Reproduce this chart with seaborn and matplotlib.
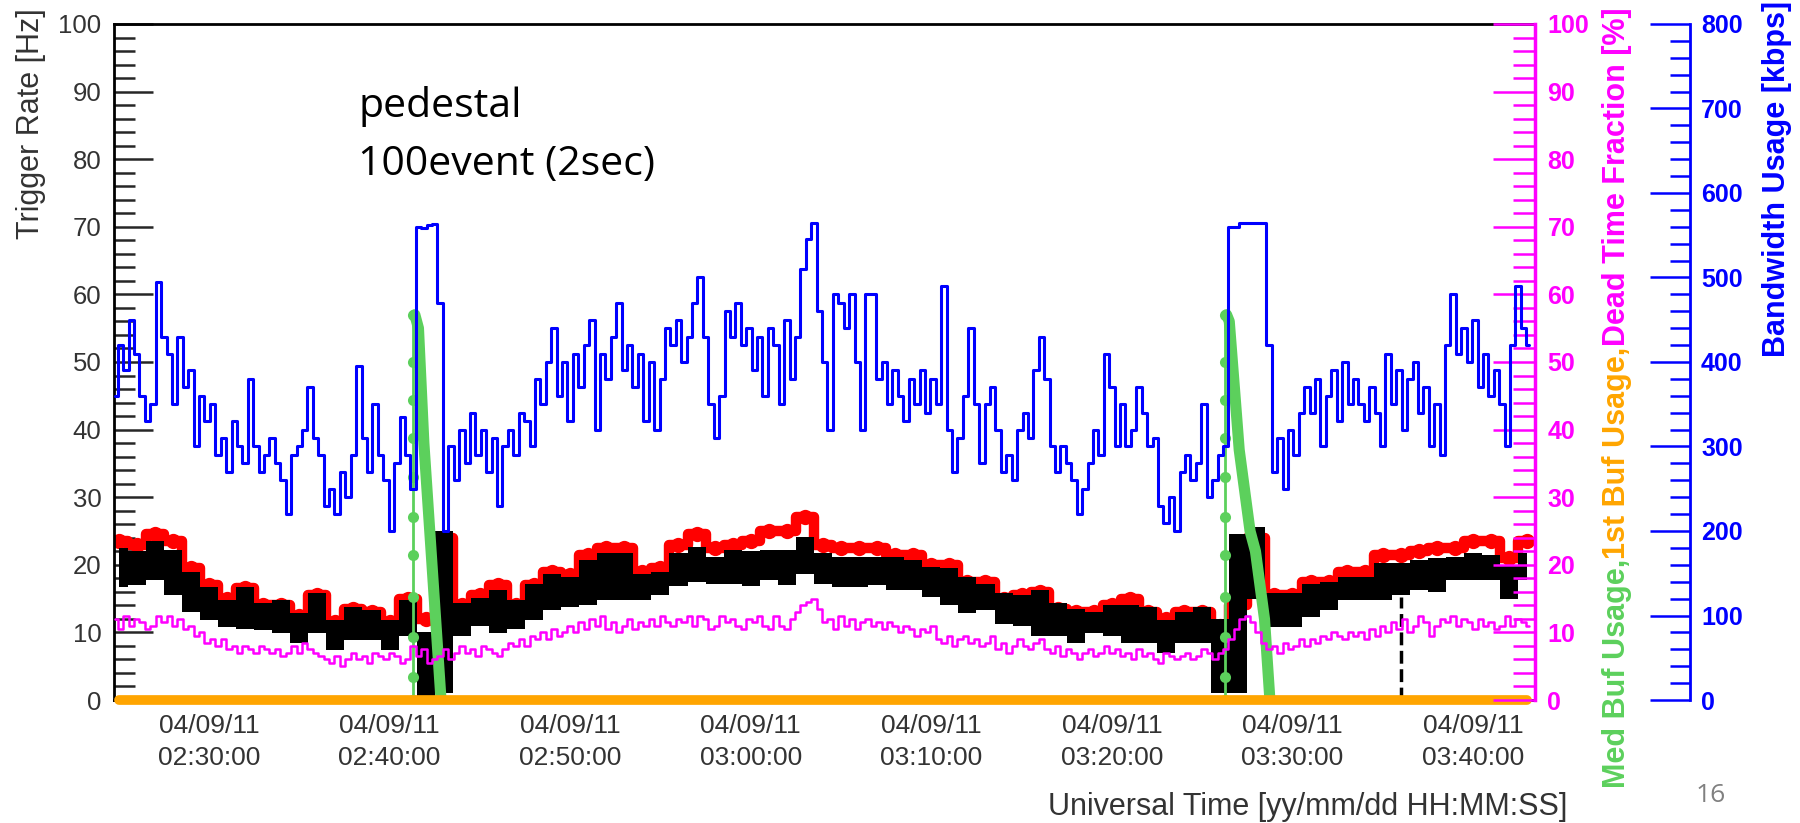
import numpy as np
import matplotlib
matplotlib.use("Agg")
import matplotlib.pyplot as plt
from matplotlib.ticker import MultipleLocator
import seaborn as sns

# time axis in minutes after 02:00:00 (04/09/11)
x_lo, x_hi = 24.74, 103.43
tick_minutes = [30, 40, 50, 60, 70, 80, 90, 100]
tick_labels = ["04/09/11\n02:30:00", "04/09/11\n02:40:00", "04/09/11\n02:50:00",
               "04/09/11\n03:00:00", "04/09/11\n03:10:00", "04/09/11\n03:20:00",
               "04/09/11\n03:30:00", "04/09/11\n03:40:00"]

# bandwidth [kbps] and dead time [%], sampled every 0.3 min from 24.8
bw_start, bw_step = 24.8, 0.3
bandwidth_kbps = [
    360, 420, 390, 450, 410, 360, 330, 350, 495, 430,
    410, 350, 430, 370, 390, 300, 360, 330, 350, 290,
    310, 270, 330, 300, 280, 380, 300, 270, 290, 310,
    280, 260, 220, 290, 300, 320, 370, 310, 290, 230,
    250, 220, 270, 240, 290, 395, 310, 270, 350, 290,
    260, 200, 280, 335, 290, 250, 560, 558, 562, 563,
    470, 200, 300, 260, 320, 280, 340, 290, 320, 270,
    310, 230, 300, 320, 290, 340, 330, 300, 380, 350,
    400, 440, 360, 400, 330, 410, 370, 420, 450, 320,
    410, 380, 430, 470, 390, 420, 370, 410, 330, 400,
    320, 380, 440, 420, 450, 400, 430, 470, 500, 430,
    350, 310, 360, 460, 430, 470, 420, 440, 390, 430,
    360, 440, 420, 350, 450, 380, 430, 510, 545, 565,
    460, 400, 320, 480, 470, 440, 480, 400, 320, 480,
    480, 380, 400, 350, 390, 360, 330, 380, 350, 390,
    340, 380, 350, 490, 320, 270, 310, 360, 440, 350,
    280, 350, 370, 320, 270, 290, 260, 320, 340, 310,
    390, 430, 380, 300, 270, 300, 280, 260, 220, 250,
    280, 320, 290, 410, 370, 300, 350, 300, 320, 370,
    340, 300, 310, 230, 210, 240, 200, 270, 290, 260,
    280, 350, 240, 260, 290, 300, 560, 560, 564, 564,
    564, 564, 564, 420, 270, 310, 250, 320, 290, 340,
    370, 340, 380, 300, 360, 390, 330, 400, 350, 380,
    350, 330, 370, 340, 300, 410, 350, 390, 320, 380,
    400, 340, 370, 300, 350, 290, 420, 480, 410, 440,
    400, 450, 370, 410, 360, 390, 350, 300, 420, 490,
    440, 420]
dead_time_pct = [
    12.0, 10.5, 12.5, 11.0, 12.0, 11.5, 10.5, 11.0, 12.5, 11.5,
    12.5, 11.0, 12.0, 10.5, 11.0, 9.5, 10.0, 8.5, 9.0, 8.0,
    9.0, 7.5, 8.0, 7.0, 8.0, 7.5, 7.0, 8.0, 7.5, 7.0,
    7.5, 6.5, 7.0, 8.0, 7.0, 8.5, 7.5, 7.0, 6.5, 6.0,
    5.5, 6.5, 5.0, 6.0, 7.0, 6.0, 6.5, 5.5, 7.0, 6.5,
    6.0, 7.0, 6.5, 5.5, 6.0, 8.0, 6.5, 7.5, 5.5, 6.0,
    6.5, 7.5, 6.0, 7.0, 8.0, 7.0, 7.5, 6.5, 8.0, 7.5,
    7.0, 6.5, 7.5, 8.5, 8.0, 9.0, 8.0, 9.5, 9.0, 10.0,
    9.0, 10.5, 9.5, 10.0, 11.0, 10.0, 11.5, 10.5, 12.0, 11.0,
    12.5, 10.5, 11.5, 10.0, 11.0, 12.0, 10.5, 11.5, 11.0, 12.0,
    11.0, 12.5, 11.5, 11.0, 12.0, 11.5, 12.5, 11.0, 12.5, 12.0,
    10.5, 11.0, 12.5, 11.5, 12.0, 11.0, 10.5, 12.0, 11.5, 12.5,
    11.0, 10.5, 12.5, 11.0, 10.5, 12.0, 13.0, 14.0, 14.5, 15.0,
    13.5, 11.5, 12.0, 10.5, 12.5, 11.0, 12.0, 10.5, 11.5, 12.0,
    11.0, 11.5, 10.5, 11.5, 11.0, 10.0, 11.0, 10.5, 9.5, 10.5,
    10.0, 11.0, 9.0, 8.5, 9.5, 8.0, 9.0, 9.5, 8.5, 9.0,
    8.0, 8.5, 9.5, 7.5, 8.5, 7.0, 8.0, 9.0, 8.0, 7.5,
    8.5, 9.0, 7.5, 7.0, 8.0, 6.5, 7.5, 7.0, 6.0, 7.0,
    7.5, 6.5, 7.0, 8.0, 7.0, 7.5, 6.5, 7.0, 6.0, 7.5,
    6.5, 7.0, 6.0, 5.5, 7.0, 6.5, 6.0, 6.5, 7.0, 6.0,
    6.5, 7.5, 7.0, 6.0, 7.0, 7.5, 9.0, 10.5, 12.0, 12.5,
    11.5, 10.0, 8.5, 7.5, 8.0, 7.0, 8.5, 7.5, 8.0, 9.0,
    8.0, 9.0, 8.5, 9.5, 9.0, 10.0, 9.5, 9.0, 10.0, 9.5,
    10.0, 9.0, 10.5, 9.5, 11.0, 10.0, 11.5, 10.5, 12.0, 10.0,
    11.0, 12.5, 11.5, 9.5, 11.0, 12.0, 11.5, 12.5, 11.0, 12.0,
    11.5, 10.5, 12.0, 11.0, 11.5, 10.5, 11.0, 12.5, 11.0, 12.0,
    11.5, 11.0]

# trigger rates [Hz], one value per minute from 25 to 103
rate_time = list(range(25, 104))
trig_rate = [
    23.5, 23.0, 24.5, 23.5, 19.5, 17.0, 15.0, 16.5, 14.0, 14.0,
    12.5, 15.5, 11.5, 13.5, 13.0, 11.5, 15.0, 12.0, 24.0, 14.0,
    15.5, 17.0, 14.0, 17.0, 19.0, 18.5, 21.5, 22.5, 22.5, 19.0,
    19.5, 23.0, 24.5, 22.5, 23.0, 23.5, 25.0, 25.0, 27.0, 23.0,
    22.5, 22.5, 22.5, 21.5, 21.5, 20.0, 20.0, 17.5, 17.5, 15.0,
    15.5, 16.0, 13.5, 13.0, 13.0, 14.0, 15.0, 13.0, 12.0, 13.0,
    13.0, 11.0, 14.0, 24.0, 15.5, 15.5, 17.5, 17.5, 19.0, 19.0,
    21.5, 21.5, 22.0, 22.5, 22.5, 23.5, 23.5, 21.0, 23.5]
accept_hi = [
    22.5, 22.0, 23.5, 22.2, 19.0, 16.7, 14.8, 16.7, 14.3, 14.8,
    12.8, 15.8, 11.8, 13.8, 13.3, 11.8, 14.8, 10.0, 25.0, 14.3,
    15.1, 16.3, 14.8, 17.2, 18.7, 18.2, 20.7, 21.7, 21.7, 18.7,
    19.0, 21.7, 22.6, 21.2, 22.2, 22.0, 22.2, 22.2, 24.1, 21.7,
    21.2, 21.2, 21.2, 21.2, 20.7, 19.7, 19.5, 18.2, 17.2, 15.8,
    15.5, 16.3, 14.3, 13.5, 13.0, 14.0, 14.0, 13.8, 11.8, 13.0,
    13.8, 12.0, 24.6, 25.6, 15.8, 15.8, 17.2, 17.5, 18.2, 18.2,
    20.2, 20.2, 20.7, 21.0, 21.2, 21.7, 21.5, 20.0, 21.7]
accept_lo = [
    16.7, 17.0, 17.7, 15.5, 13.0, 11.8, 10.8, 10.5, 10.3, 9.9,
    8.4, 9.9, 7.4, 8.9, 8.9, 7.4, 9.4, 0.5, 1.0, 9.4,
    11.0, 9.9, 10.5, 11.8, 13.3, 13.8, 14.0, 14.8, 14.8, 14.8,
    15.5, 16.8, 17.5, 17.2, 17.2, 16.8, 17.7, 17.0, 18.7, 17.2,
    16.7, 16.7, 17.0, 16.2, 16.2, 15.3, 14.0, 12.8, 13.3, 11.3,
    11.0, 9.4, 9.4, 8.5, 9.9, 9.4, 8.4, 8.4, 7.0, 8.4,
    8.4, 1.0, 1.0, 15.0, 10.8, 10.8, 12.3, 13.3, 14.8, 14.8,
    14.8, 15.5, 16.3, 16.0, 17.7, 17.7, 17.7, 15.0, 17.7]
first_buf = [0.0] * len(rate_time)

# dashed drop of the accepted rate
gap_time = [96.0, 96.0]
gap_rate = [0.0, 15.2]

# medium buffer usage [%] around the two pedestal runs
med_fill = [0.0, 3.4, 9.3, 15.2, 21.4, 27.0, 33.0, 38.8, 44.4, 50.0, 57.0]
ped_time = [41.3, 86.25]
med_drain_t = [[41.4, 41.6, 41.9, 42.3, 42.6, 42.85],
               [86.35, 86.5, 87.05, 87.65, 87.95, 88.45, 88.75]]
med_drain_v = [[57, 55, 38, 22, 10, 0],
               [57, 56, 37, 25, 22, 12, 0]]

GREEN = "#5cd05c"
ORANGE = "#ffa500"
MAGENTA = "#ff00ff"
BLUE = "#0000ff"
GREY = "#333333"

sns.set_style("white")
plt.rcParams["font.family"] = ["Liberation Sans", "DejaVu Sans"]

W, H = 1800, 823
fig = plt.figure(figsize=(18, 8.23), dpi=100)
ax = fig.add_axes([114 / W, 1 - 700 / H, 1421 / W, 676 / H])
ax_dt = ax.twinx()
ax_bw = ax.twinx()

# trigger rate: red, accepted band: black
sns.lineplot(x=rate_time, y=trig_rate, ax=ax, color="red", lw=7.5, marker="o",
             markersize=11, markeredgewidth=0, drawstyle="steps-mid",
             estimator=None, sort=False, zorder=2)
ax.fill_between(rate_time, accept_lo, accept_hi, step="mid", color="black",
                lw=0, zorder=3)
sns.lineplot(x=gap_time, y=gap_rate, ax=ax, color="black", lw=2.5,
             linestyle="--", estimator=None, sort=False, zorder=3)

for k in range(2):
    sns.lineplot(x=[ped_time[k]] * len(med_fill), y=med_fill, ax=ax, color=GREEN,
                 lw=2, marker="o", markersize=8, markeredgewidth=0,
                 estimator=None, sort=False, zorder=4)
    sns.lineplot(x=med_drain_t[k], y=med_drain_v[k], ax=ax, color=GREEN, lw=8,
                 solid_capstyle="round", estimator=None, sort=False, zorder=4)

sns.lineplot(x=rate_time, y=first_buf, ax=ax, color=ORANGE, lw=7,
             solid_capstyle="round", estimator=None, sort=False, zorder=6,
             clip_on=False)

bw_time = bw_start + bw_step * np.arange(len(bandwidth_kbps))
sns.lineplot(x=bw_time, y=dead_time_pct, ax=ax_dt, color=MAGENTA, lw=1.8,
             drawstyle="steps-mid", estimator=None, sort=False)
sns.lineplot(x=bw_time, y=bandwidth_kbps, ax=ax_bw, color=BLUE, lw=2.2,
             drawstyle="steps-mid", estimator=None, sort=False)

# main axes
ax.set_xlim(x_lo, x_hi)
ax.set_ylim(0, 100)
ax.set_xticks(tick_minutes)
ax.set_xticklabels(tick_labels)
ax.xaxis.set_minor_locator(MultipleLocator(2))
ax.set_yticks(range(0, 101, 10))
ax.yaxis.set_minor_locator(MultipleLocator(2))
ax.set_xlabel("")
ax.set_ylabel("")
ax.tick_params(axis="y", which="major", direction="in", length=28, width=1.8,
               labelsize=18.5, labelcolor=GREY, pad=9, right=False)
ax.tick_params(axis="y", which="minor", direction="in", length=15, width=1.8,
               right=False)
ax.tick_params(axis="x", which="major", direction="in", length=16, width=1.5,
               labelsize=19, labelcolor=GREY, pad=10, top=False)
ax.tick_params(axis="x", which="minor", direction="in", length=8, width=1.5,
               top=False)
for lbl in ax.get_xticklabels():
    lbl.set_linespacing(1.45)
for side in ["left", "top", "bottom"]:
    ax.spines[side].set_linewidth(2)
    ax.spines[side].set_color("black")
ax.spines["right"].set_visible(False)

# dead time axis
ax_dt.set_ylim(0, 100)
ax_dt.set_yticks(range(0, 101, 10))
ax_dt.yaxis.set_minor_locator(MultipleLocator(2))
ax_dt.set_ylabel("")
ax_dt.tick_params(axis="y", which="major", direction="in", length=30, width=1.8,
                  color=MAGENTA, labelcolor=MAGENTA, labelsize=18, pad=9)
ax_dt.tick_params(axis="y", which="minor", direction="in", length=16, width=1.8,
                  color=MAGENTA)
for side in ["left", "top", "bottom"]:
    ax_dt.spines[side].set_visible(False)
ax_dt.spines["right"].set_color(MAGENTA)
ax_dt.spines["right"].set_linewidth(2.5)

# bandwidth axis
ax_bw.set_ylim(0, 800)
ax_bw.set_yticks(range(0, 801, 100))
ax_bw.yaxis.set_minor_locator(MultipleLocator(20))
ax_bw.set_ylabel("")
ax_bw.spines["right"].set_position(("axes", (1690 - 114) / 1421))
ax_bw.tick_params(axis="y", which="major", direction="in", length=29, width=1.8,
                  color=BLUE, labelcolor=BLUE, labelsize=18, pad=8)
ax_bw.tick_params(axis="y", which="minor", direction="in", length=14.5, width=1.8,
                  color=BLUE)
for side in ["left", "top", "bottom"]:
    ax_bw.spines[side].set_visible(False)
ax_bw.spines["right"].set_color(BLUE)
ax_bw.spines["right"].set_linewidth(2)

for a in (ax_dt, ax_bw):
    for lbl in a.get_yticklabels():
        lbl.set_fontweight("bold")

# titles
fig.text(31 / W, 1 - 8 / H, "Trigger Rate [Hz]", rotation=90, ha="center",
         va="top", fontsize=22, color=GREY)
fig.text(1567 / W, 1 - 815 / H, "Universal Time [yy/mm/dd HH:MM:SS]",
         ha="right", va="baseline", fontsize=22, color=GREY)
fig.text(1777 / W, 1 - 1 / H, "Bandwidth Usage [kbps]", rotation=90,
         ha="center", va="top", fontsize=22, fontweight="bold", color=BLUE)

fig.canvas.draw()
renderer = fig.canvas.get_renderer()
y = 1 - 788 / H
for txt, col in [("Med Buf Usage,", GREEN), ("1st Buf Usage,", ORANGE),
                 ("Dead Time Fraction [%]", MAGENTA)]:
    t = fig.text(1617 / W, y, txt, rotation=90, rotation_mode="anchor",
                 ha="left", va="center", color=col, fontsize=22,
                 fontweight="bold")
    y += t.get_window_extent(renderer).height / fig.bbox.height

# slide annotation and page number
fig.text(358 / W, 1 - 117 / H, "pedestal", ha="left", va="baseline",
         fontsize=29.5, family="Open Sans", color="black")
fig.text(358 / W, 1 - 175 / H, "100event (2sec)", ha="left", va="baseline",
         fontsize=29.5, family="Open Sans", color="black")
fig.text(1711 / W, 1 - 802 / H, "16", ha="center", va="baseline",
         fontsize=19, family="Open Sans", color="#808080")

fig.savefig("out.png", dpi=100)
